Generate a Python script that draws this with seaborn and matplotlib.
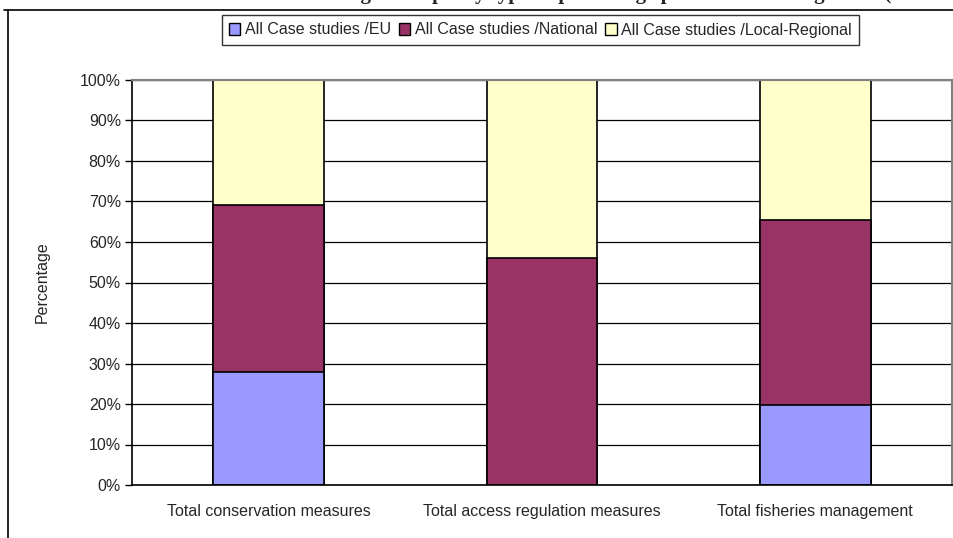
import matplotlib
matplotlib.use("Agg")
import matplotlib.pyplot as plt
from matplotlib.patches import Patch
from matplotlib.lines import Line2D
import seaborn as sns
import pandas as pd
import numpy as np

categories = ["Total conservation measures", "Total access regulation measures", "Total fisheries management"]
series_names = ["All Case studies /EU", "All Case studies /National", "All Case studies /Local-Regional"]
eu = [28.0, 0.0, 19.7]
national = [41.2, 56.1, 45.8]
local = [30.8, 43.9, 34.5]
colors = ["#9999FF", "#993366", "#FFFFCC"]
yticks = list(range(0, 101, 10))
ytick_labels = [f"{v}%" for v in yticks]
title_text = "Distribution of measures according to the policy type as percentage per level of management (all case studies)"

sns.set_theme(style="white")
plt.rcParams["font.family"] = ["Liberation Sans", "DejaVu Sans"]

fig = plt.figure(figsize=(9.54, 5.38), dpi=100)
W, H = 954, 538
ax = fig.add_axes([132 / W, (H - 485) / H, (952 - 132) / W, (485 - 80) / H])

df = pd.DataFrame({"category": categories, "EU": eu, "National": national, "Local": local})
df["c1"] = df["EU"]
df["c2"] = df["EU"] + df["National"]
df["c3"] = df["c2"] + df["Local"]

for col, colr in zip(["c3", "c2", "c1"], [colors[2], colors[1], colors[0]]):
    sns.barplot(data=df, x="category", y=col, color=colr, saturation=1, width=0.405,
                edgecolor="black", linewidth=1.2, ax=ax, order=categories)

ax.set_ylim(0, 100)
ax.set_xlim(-0.5, 2.5)
ax.set_yticks(yticks)
ax.set_yticklabels(ytick_labels, fontsize=11.5)
ax.set_xticks(range(len(categories)))
ax.set_xticklabels(categories, fontsize=11.5)
ax.set_xticks([0.5, 1.5], minor=True)
ax.tick_params(axis="x", which="major", length=0, pad=14)
ax.tick_params(axis="x", which="minor", length=5, direction="out", color="black", width=1)
ax.tick_params(axis="y", which="major", length=5, direction="out", color="black", width=1, pad=3, left=True)
ax.set_xlabel("")
ax.set_ylabel("Percentage", fontsize=11.5, labelpad=22)
ax.yaxis.grid(True, color="black", linewidth=0.9)
ax.set_axisbelow(True)
for s in ["left", "bottom"]:
    ax.spines[s].set_color("black")
    ax.spines[s].set_linewidth(1.2)
for s in ["top", "right"]:
    ax.spines[s].set_color("#808080")
    ax.spines[s].set_linewidth(1.5)

handles = [Patch(facecolor=c, edgecolor="black", linewidth=1) for c in colors]
leg = fig.legend(handles, series_names, loc="center", bbox_to_anchor=(540.5 / W, 1 - 30 / H),
                 ncol=3, fontsize=11.5, frameon=True, fancybox=False, shadow=False,
                 handlelength=0.7, handleheight=0.7, handletextpad=0.3, columnspacing=0.5,
                 borderpad=0.45, borderaxespad=0)
leg.get_frame().set_edgecolor("black")
leg.get_frame().set_linewidth(1)

fig.add_artist(Line2D([8 / W, 8 / W], [0, 1 - 10 / H], color="black", linewidth=1.2, transform=fig.transFigure))
fig.add_artist(Line2D([4 / W, 1], [1 - 10 / H, 1 - 10 / H], color="black", linewidth=1.2, transform=fig.transFigure))

# Title: cut off at the top edge in the reference, only descenders show
fig.text(58 / W, 1 + 0.5 / H, title_text, ha="left", va="baseline", fontsize=15, fontweight="bold",
         family=["Liberation Serif", "DejaVu Serif"])

fig.savefig("out.png", dpi=100)
